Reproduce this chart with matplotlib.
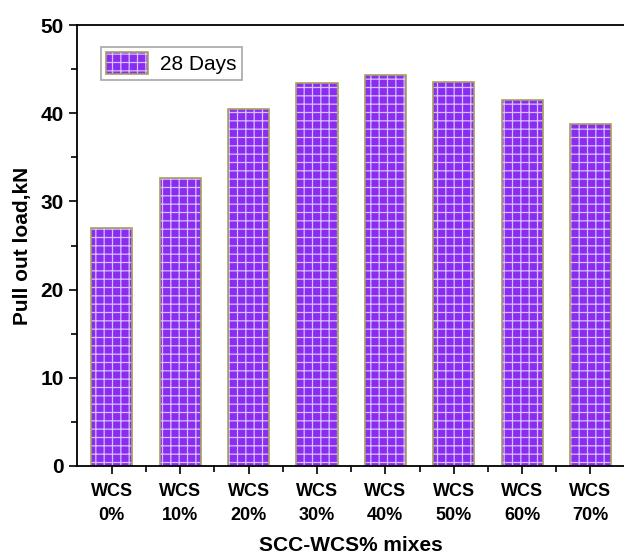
import matplotlib
matplotlib.use("Agg")
import matplotlib.pyplot as plt
from matplotlib.ticker import MultipleLocator, FixedLocator
from matplotlib.patches import Patch
from matplotlib.legend_handler import HandlerTuple
import numpy as np

# Datos
categorias = ["WCS\n0%", "WCS\n10%", "WCS\n20%", "WCS\n30%",
              "WCS\n40%", "WCS\n50%", "WCS\n60%", "WCS\n70%"]
carga_28_dias = [27.0, 32.7, 40.5, 43.4, 44.3, 43.5, 41.5, 38.8]

relleno = '#8a2df0'
trama = '#d4c0ff'
borde = '#a8a060'

plt.rcParams['font.family'] = ['Liberation Sans', 'DejaVu Sans']
plt.rcParams['hatch.linewidth'] = 0.9

fig = plt.figure(figsize=(6.24, 5.57), dpi=100)
ax = fig.add_axes([0.1234, 0.1634, 0.8766, 0.7916])

x = np.arange(len(categorias))
# Relleno con el patron de ladrillos (el color de la trama sale del borde)
ax.bar(x, carga_28_dias, width=0.6, color=relleno, edgecolor=trama,
       linewidth=0, hatch='--||')
# Borde de las barras
ax.bar(x, carga_28_dias, width=0.6, color='none', edgecolor=borde, linewidth=1.2)

ax.set_xlim(-0.51, 7.49)
ax.set_ylim(0, 50)
ax.set_xticks(x)
ax.set_xticklabels(categorias, fontsize=13, fontweight='bold', linespacing=1.55)
ax.xaxis.set_minor_locator(FixedLocator(x[:-1] + 0.5))
ax.yaxis.set_major_locator(MultipleLocator(10))
ax.yaxis.set_minor_locator(MultipleLocator(5))
for lab in ax.get_yticklabels():
    lab.set_fontsize(15)
    lab.set_fontweight('bold')

ax.tick_params(axis='both', which='major', direction='out', length=6, width=1.2)
ax.tick_params(axis='both', which='minor', direction='out', length=4, width=1.2)
ax.tick_params(axis='x', pad=6)

ax.spines['right'].set_visible(False)
for s in ['left', 'bottom', 'top']:
    ax.spines[s].set_linewidth(1.3)

ax.set_ylabel('Pull out load,kN', fontsize=15, fontweight='bold', labelpad=6)
ax.set_xlabel('SCC-WCS% mixes', fontsize=15, fontweight='bold', labelpad=9)

# Leyenda: parche con trama y parche con borde, uno encima del otro
p_trama = Patch(facecolor=relleno, edgecolor=trama, hatch='--||', linewidth=0)
p_borde = Patch(facecolor='none', edgecolor=borde, linewidth=1.2)
leg = ax.legend([(p_trama, p_borde)], ['28 Days'],
                handler_map={tuple: HandlerTuple(ndivide=1)},
                loc='upper left', bbox_to_anchor=(0.025, 0.975),
                fontsize=15, fancybox=False, edgecolor='#909090', handlelength=2.0,
                handleheight=1.3, borderpad=0.25, handletextpad=0.6)
leg.get_frame().set_linewidth(1.2)

fig.savefig('out.png', dpi=100)
